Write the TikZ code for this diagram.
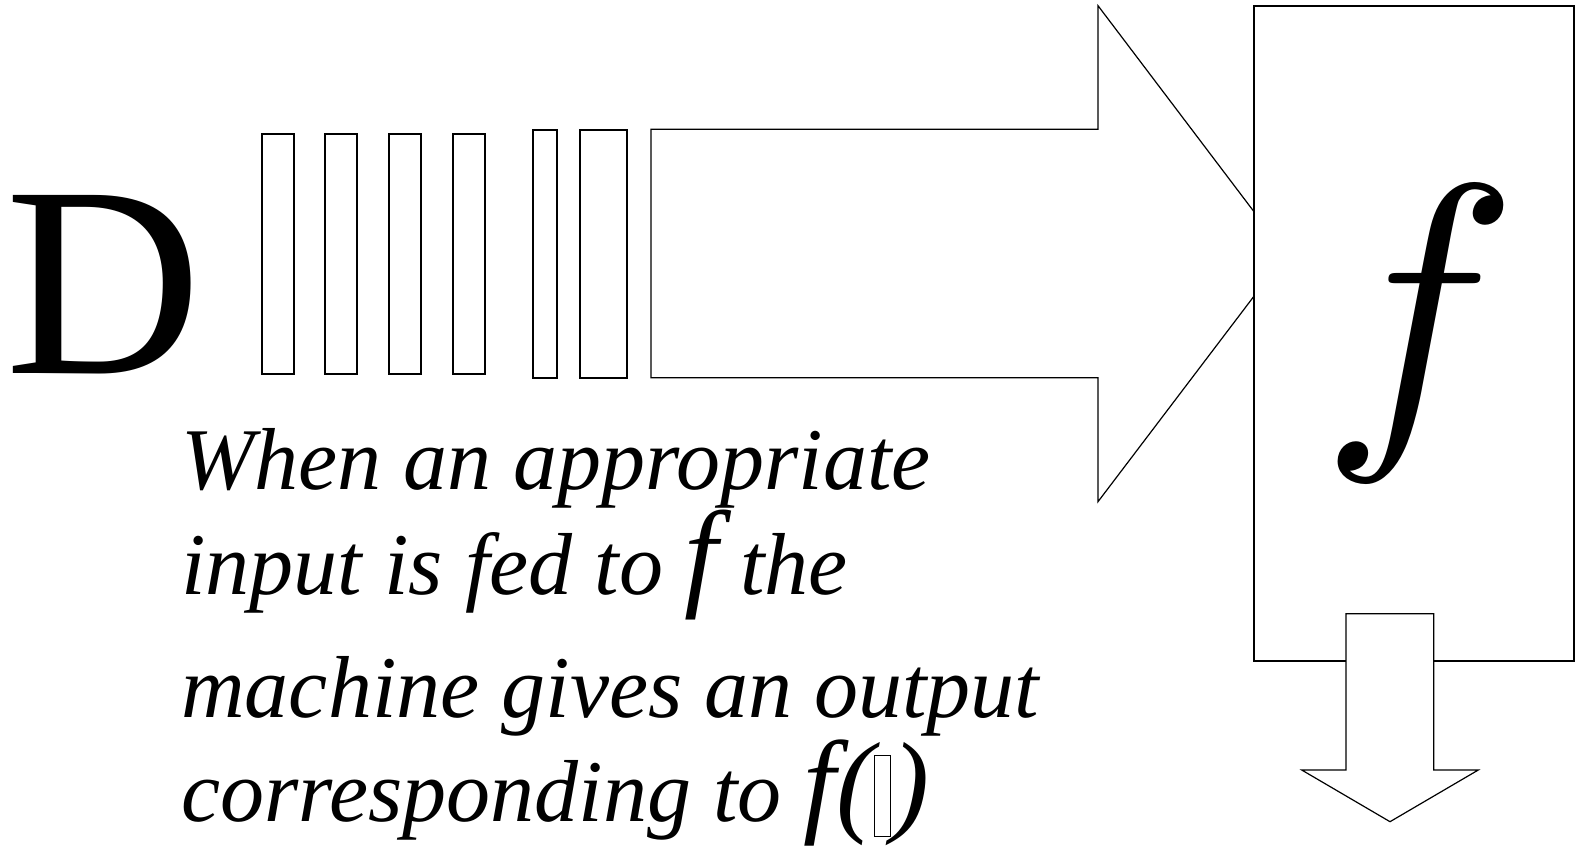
\documentclass[tikz,border=0pt]{standalone}
\usepackage{graphicx}
\usepackage{fontspec}
\setmainfont{Liberation Serif}
\usepackage{tikz}
\usetikzlibrary{positioning}

\newcommand{\capfont}{\fontsize{44}{50}\selectfont\itshape}
\newcommand{\symf}[1]{\scalebox{#1}{\fontsize{10}{10}\selectfont$f$}}
\newcommand{\textf}[1]{{\fontsize{#1}{#1}\selectfont\itshape f}}
\newcommand{\bigpar}[1]{{\fontsize{57}{57}\selectfont\itshape #1}}
\newcommand{\tofu}{{\setlength{\fboxsep}{0pt}\setlength{\fboxrule}{0.6pt}\fbox{\rule[-7.5pt]{0pt}{40pt}\hspace{7.3pt}}}}

\begin{document}
\begin{tikzpicture}[x=0.5pt, y=-0.5pt,
    bar/.style={draw, line width=0.6pt, inner sep=0pt, outer sep=0pt, minimum width=16pt, minimum height=120pt},
    caption/.style={anchor=base west, inner sep=0pt, font=\capfont},
    outline/.style={draw, line width=0.6pt, fill=white}]
    \useasboundingbox (0,0) rectangle (1585,854);

    % Input set
    \node [anchor=base west, inner sep=0pt, font=\fontsize{136}{136}\selectfont] (dom) at (5,374) {D};

    % Stream of values
    \node [bar] (b1) at (278,254) {};
    \node [bar, right=15.5pt of b1] (b2) {};
    \node [bar, right=16pt of b2] (b3) {};
    \node [bar, right=16pt of b3] (b4) {};
    \node [bar, minimum width=12pt, minimum height=124pt, right=24pt of b4] (b5) {};
    \node [bar, minimum width=23.5pt, minimum height=124pt, right=11.5pt of b5] (b6) {};

    % Arrow into the machine
    \draw [line width=0.6pt] (651,129.3) -- (1098,129.3) -- (1098,5.7) -- (1286,254)
        -- (1098,501.7) -- (1098,377.7) -- (651,377.7) -- cycle;

    % Machine
    \node [outline, inner sep=0pt, minimum width=160pt, minimum height=327.5pt] (machine) at (1414,333.5) {\hspace{6pt}\symf{16.6}};

    % Output arrow
    \draw [outline] (1346,613.7) -- (1433.7,613.7) -- (1433.7,770) -- (1478.3,770)
        -- (1390,821.7) -- (1301.7,770) -- (1346,770) -- cycle;

    % Caption
    \node [caption] (line1) at (181,490) {When an appropriate};
    \node [caption, below=52.5pt of line1.base west, anchor=base west] (line2) {input is fed to \textf{60} the};
    \node [caption, below=61.5pt of line2.base west, anchor=base west] (line3) {machine gives an output};
    \node [caption, below=51.5pt of line3.base west, anchor=base west] (line4) {corresponding to \textf{58}\bigpar{(}\tofu\bigpar{)}};
\end{tikzpicture}
\end{document}
